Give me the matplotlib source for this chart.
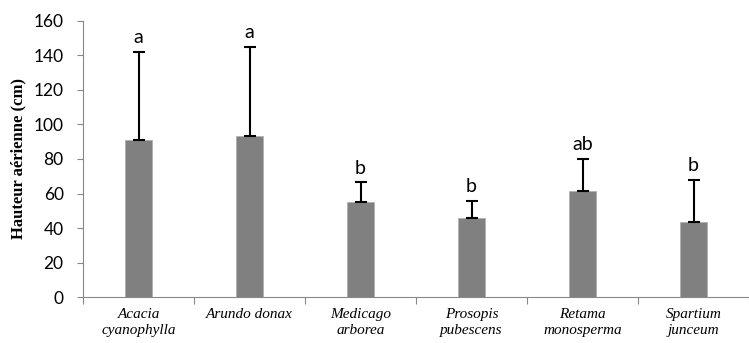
import numpy as np
import matplotlib.pyplot as plt

species = ['Acacia\ncyanophylla', 'Arundo donax', 'Medicago\narborea',
           'Prosopis\npubescens', 'Retama\nmonosperma', 'Spartium\njunceum']
hauteur = [91, 93, 55, 46, 61.5, 43.5]
erreur = [51, 52, 11.5, 10, 18.5, 24.5]
lettres = ['a', 'a', 'b', 'b', 'ab', 'b']

fig = plt.figure(figsize=(7.49, 3.43), dpi=100)
ax = fig.add_axes([0.111, 0.133, 0.889, 0.807])

x = np.arange(len(species))
ax.bar(x, hauteur, width=0.25, color='#808080', edgecolor='#b0b0b0', linewidth=0.6)
ax.errorbar(x, hauteur, yerr=[np.zeros(len(erreur)), erreur], fmt='none',
            ecolor='black', elinewidth=1.5, capsize=4, capthick=1.5)

for xi, h, e, l in zip(x, hauteur, erreur, lettres):
    ax.annotate(l, (xi, h + e), xytext=(0, 4), textcoords='offset points',
                ha='center', va='bottom', fontsize=14, family='Lato')

ax.set_xlim(-0.5, len(species) - 0.5)
ax.set_ylim(0, 160)
ax.set_yticks(range(0, 161, 20))
ax.set_yticklabels([str(v) for v in range(0, 161, 20)], family='Lato', fontsize=12.5)
ax.tick_params(axis='y', length=4, color='#888888', width=0.8, pad=10)
ax.set_xticks(x)
ax.set_xticklabels(species, fontsize=11, family='Liberation Serif', style='italic',
                   linespacing=1.3)
ax.set_xticks(np.arange(-0.5, len(species), 1), minor=True)
ax.tick_params(axis='x', which='major', length=0, pad=8)
ax.tick_params(axis='x', which='minor', length=5, color='#888888', width=0.8)

ax.set_ylabel('Hauteur aérienne (cm)', fontsize=12, family='Liberation Serif',
              fontweight='bold', labelpad=5)

for s in ['top', 'right']:
    ax.spines[s].set_visible(False)
for s in ['left', 'bottom']:
    ax.spines[s].set_color('#888888')
    ax.spines[s].set_linewidth(0.8)

fig.savefig('out.png', dpi=100)
